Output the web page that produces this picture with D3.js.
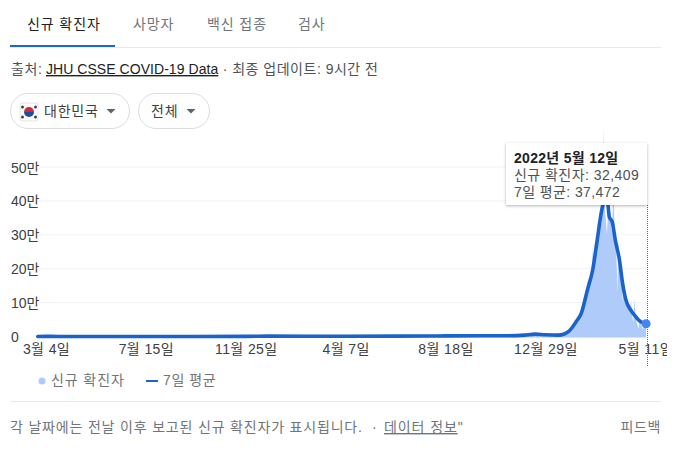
<!DOCTYPE html>
<html lang="ko"><head><meta charset="utf-8">
<script src="https://cdn.jsdelivr.net/npm/d3@7"></script>
<style>
html,body{margin:0;padding:0;background:#fff;overflow:hidden}
svg{display:block}
text{font-family:"Liberation Sans","Noto Sans CJK KR",sans-serif;font-size:14px}
</style></head><body>
<svg id="c" width="677" height="453"></svg>
<script>
const tabLabels = ["신규 확진자","사망자","백신 접종","검사"];
const seriesNames = ["신규 확진자","7일 평균"];
const yTickValues = [0,100000,200000,300000,400000,500000];
const yTickLabels = ["0","10만","20만","30만","40만","50만"];
const xTickDates = ["2020-03-04","2020-07-15","2020-11-25","2021-04-07","2021-08-18","2021-12-29","2022-05-11"];
const xTickLabels = ["3월 4일","7월 15일","11월 25일","4월 7일","8월 18일","12월 29일","5월 11일"];

const avgDates = ["2020-02-22","2020-03-04","2020-03-20","2020-07-15","2020-11-25","2020-12-25","2021-04-07","2021-07-25","2021-08-18","2021-09-28","2021-11-10","2021-12-01","2021-12-15","2021-12-29","2022-01-15","2022-01-23","2022-01-30","2022-02-08","2022-02-15","2022-02-23","2022-03-02","2022-03-08","2022-03-14","2022-03-16","2022-03-19","2022-03-22","2022-03-24","2022-03-28","2022-04-01","2022-04-07","2022-04-10","2022-04-15","2022-04-21","2022-04-27","2022-05-03","2022-05-08","2022-05-12"];
const avgValues = [100,500,200,50,400,1000,600,1500,1800,2300,2400,4000,7000,5000,4000,7500,17000,44000,70000,138000,197000,285000,373000,392000,404000,392000,353000,338000,285000,220000,168000,109000,80000,62000,47000,40000,37472];

const dailyDates = ["2020-02-22","2020-03-04","2020-07-15","2021-04-07","2021-08-18","2021-12-15","2021-12-29","2022-01-15","2022-01-28","2022-02-08","2022-02-14","2022-02-15","2022-02-16","2022-02-22","2022-02-23","2022-02-24","2022-03-01","2022-03-02","2022-03-03","2022-03-08","2022-03-09","2022-03-10","2022-03-14","2022-03-15","2022-03-16","2022-03-17","2022-03-18","2022-03-20","2022-03-21","2022-03-23","2022-03-24","2022-03-28","2022-03-29","2022-03-30","2022-03-31","2022-04-02","2022-04-04","2022-04-05","2022-04-06","2022-04-07","2022-04-10","2022-04-11","2022-04-12","2022-04-13","2022-04-15","2022-04-20","2022-04-21","2022-04-22","2022-04-23","2022-04-25","2022-04-26","2022-04-27","2022-04-28","2022-05-01","2022-05-02","2022-05-03","2022-05-04","2022-05-08","2022-05-10","2022-05-12"];
const dailyValues = [100,500,60,600,1800,7000,5000,4000,16000,44000,60000,88000,65000,125000,170000,140000,190000,265000,200000,280000,340000,300000,340000,400000,620000,440000,380000,330000,300000,400000,390000,300000,420000,430000,310000,280000,130000,280000,220000,200000,150000,100000,180000,140000,100000,90000,80000,110000,70000,40000,80000,110000,55000,30000,22000,50000,45000,20000,50000,32409];

const parse = d3.utcParse("%Y-%m-%d");
const avg = avgDates.map((d,i)=>({date:parse(d),value:avgValues[i]}));
const daily = dailyDates.map((d,i)=>({date:parse(d),value:dailyValues[i]}));
const svg = d3.select("#c");

const ink="#202124", grey="#70757a", rule="#e8eaed", blue="#1a62cc", pale="#aecbfa";

// scales
const x = d3.scaleUtc().domain([parse("2020-03-04"),parse("2022-05-11")]).range([46,645.3]);
const y = d3.scaleLinear().domain([0,500000]).range([336.5,167]);

// tabs
const tabX=[27,133,207,298];
svg.selectAll("text.tab").data(tabLabels).join("text").attr("class","tab")
  .attr("x",(d,i)=>tabX[i]).attr("y",29).attr("letter-spacing",.9).attr("fill",(d,i)=>i?grey:ink).text(d=>d);
svg.append("rect").attr("x",10).attr("y",47).attr("width",651).attr("height",1).attr("fill",rule);
svg.append("rect").attr("x",10).attr("y",45).attr("width",105).attr("height",2).attr("fill","#1a6ac8");

// source line
const src=svg.append("text").attr("x",11).attr("y",74).attr("fill","#4d5156");
src.append("tspan").attr("letter-spacing",.6).text("출처: ");
src.append("tspan").attr("fill",ink).attr("text-decoration","underline").attr("x",46).attr("letter-spacing",.05).text("JHU CSSE COVID-19 Data");
src.append("tspan").attr("letter-spacing",.5).text(" · 최종 업데이트: 9시간 전");

// chips
function chip(x0,w,label,tx){
  svg.append("rect").attr("x",x0+.5).attr("y",93.5).attr("width",w).attr("height",35).attr("rx",17.5).attr("fill","#fff").attr("stroke","#dadce0");
  svg.append("text").attr("x",tx).attr("y",116).attr("letter-spacing",.8).attr("fill","#3c4043").text(label);
  const cx=x0+w-18;
  svg.append("path").attr("d",`M${cx-4.5} 109h9l-4.5 4.5z`).attr("fill","#5f6368");
}
chip(10,119,"대한민국",44);
chip(138,71,"전체",151);
// flag
const f=svg.append("g");
f.append("rect").attr("x",20).attr("y",103).attr("width",18).attr("height",18).attr("rx",2).attr("fill","#fbfbfb").attr("stroke","#e4e4e4");
f.append("path").attr("d","M24 112a5 5 0 0 1 10 0z").attr("fill","#d5263d");
f.append("path").attr("d","M24 112a5 5 0 0 0 10 0z").attr("fill","#1d4f9c");
[[22.5,107],[35.5,107],[22.5,117],[35.5,117]].forEach(p=>f.append("circle").attr("cx",p[0]).attr("cy",p[1]).attr("r",1.5).attr("fill","#444"));

// y axis + grid
const yAxis=d3.axisLeft(y).tickValues(yTickValues).tickFormat((d,i)=>yTickLabels[i]).tickSize(0).tickPadding(0);
const gy=svg.append("g").attr("transform","translate(29,0)").call(yAxis);
gy.select(".domain").remove();
gy.selectAll("text").attr("fill","#3c4043").attr("font-size",14).attr("text-anchor","start").attr("x",-18).attr("dy","0.36em");
svg.selectAll("line.grid").data(yTickValues.slice(1)).join("line").attr("class","grid")
  .attr("x1",37).attr("x2",647).attr("y1",d=>y(d)).attr("y2",d=>y(d)).attr("stroke","#f1f3f4");

// marks
svg.append("path").datum(daily).attr("fill",pale)
  .attr("d",d3.area().x(d=>x(d.date)).y0(y(0)+1).y1(d=>y(d.value)));
svg.append("path").datum(avg).attr("fill","none").attr("stroke",blue).attr("stroke-width",3.6)
  .attr("stroke-linejoin","round").attr("stroke-linecap","round")
  .attr("d",d3.line().x(d=>x(d.date)).y(d=>y(d.value)).curve(d3.curveMonotoneX));

// x axis (clipped at the card edge)
svg.append("clipPath").attr("id","cl").append("rect").attr("x",0).attr("y",-5).attr("width",667).attr("height",40);
const xAxis=d3.axisBottom(x).tickValues(xTickDates.map(parse)).tickFormat((d,i)=>xTickLabels[i]).tickSize(0).tickPadding(0);
const gx=svg.append("g").attr("transform","translate(0,340)").attr("clip-path","url(#cl)").call(xAxis);
gx.select(".domain").remove();
gx.selectAll("text").attr("fill","#3c4043").attr("font-size",14).attr("letter-spacing",.4).attr("y",0).attr("dy","0.98em");

// legend
svg.append("circle").attr("cx",42).attr("cy",381).attr("r",3.5).attr("fill",pale);
svg.append("text").attr("x",51).attr("y",385).attr("letter-spacing",.9).attr("fill",grey).text(seriesNames[0]);
svg.append("rect").attr("x",146).attr("y",380).attr("width",12).attr("height",2).attr("fill",blue);
svg.append("text").attr("x",163).attr("y",385).attr("letter-spacing",.6).attr("fill",grey).text(seriesNames[1]);

// footer
svg.append("rect").attr("x",10).attr("y",401).attr("width",651).attr("height",1).attr("fill",rule);
const ft=svg.append("text").attr("x",10).attr("y",432).attr("fill",grey);
ft.append("tspan").attr("letter-spacing",.82).text("각 날짜에는 전날 이후 보고된 신규 확진자가 표시됩니다.");
ft.append("tspan").attr("x",372).text("·");
ft.append("tspan").attr("x",384).attr("letter-spacing",.9).attr("text-decoration","underline").text("데이터 정보");
ft.append("tspan").text('"');
svg.append("text").attr("x",661).attr("y",432).attr("text-anchor","end").attr("letter-spacing",.6).attr("fill",grey).text("피드백");

// focus + tooltip
const last=avg[avg.length-1];
svg.append("line").attr("x1",647.5).attr("x2",647.5).attr("y1",205).attr("y2",367)
  .attr("stroke","#5f6368").attr("stroke-dasharray","1 1");
svg.append("circle").attr("cx",x(last.date)).attr("cy",y(last.value)).attr("r",4.5).attr("fill","#4285f4");
const defs=svg.append("defs").append("filter").attr("id","sh").attr("x","-10%").attr("y","-10%").attr("width","120%").attr("height","130%");
defs.append("feDropShadow").attr("dx",0).attr("dy",1).attr("stdDeviation",1.5).attr("flood-color","#000").attr("flood-opacity",.3);
svg.append("rect").attr("x",506).attr("y",143).attr("width",141).attr("height",62).attr("fill","#fff").attr("filter","url(#sh)");
svg.append("text").attr("x",514).attr("y",163).attr("font-weight","bold").attr("letter-spacing",.3).attr("fill",ink).text("2022년 5월 12일");
svg.append("text").attr("x",514).attr("y",180).attr("letter-spacing",.45).attr("fill","#4d5156").text(seriesNames[0]+": "+d3.format(",")(dailyValues[dailyValues.length-1]));
svg.append("text").attr("x",514).attr("y",197).attr("letter-spacing",.4).attr("fill","#4d5156").text(seriesNames[1]+": "+d3.format(",")(last.value));
</script>
</body></html>
